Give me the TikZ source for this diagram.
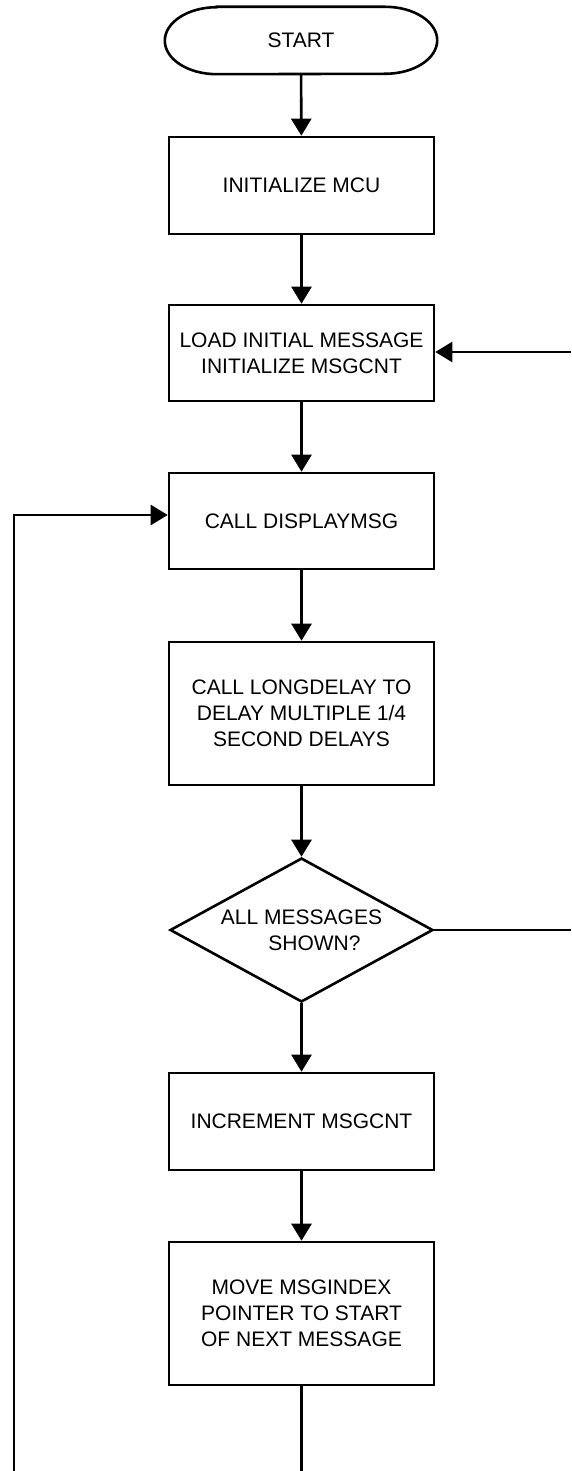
\documentclass[tikz,border=0pt]{standalone}
\usepackage{fontspec}
\setmainfont{Liberation Sans}
\usetikzlibrary{arrows.meta,shapes.geometric}
\tikzset{
  flow/.style={line width=2.6pt, draw=black},
  proc/.style={flow, rectangle, minimum width=265pt, inner sep=0pt, align=center,
               font=\fontsize{21}{26}\selectfont},
  decision/.style={flow, diamond, minimum width=263pt, minimum height=144pt,
               shape aspect=1.83, inner sep=0pt, align=center,
               font=\fontsize{21}{26}\selectfont},
  arrow/.style={line width=2.6pt, -{Triangle[length=17pt,width=20pt]}},
  link/.style={line width=2.6pt}
}
\begin{document}
\begin{tikzpicture}[x=1pt,y=-1pt]
\useasboundingbox (0,0) rectangle (571,1471);

% terminator
\node[minimum width=272pt, minimum height=67pt, inner sep=0pt,
      font=\fontsize{21}{26}\selectfont] (start) at (301,40.5) {START};
\draw[flow] ([xshift=52pt]start.north west) -- ([xshift=-52pt]start.north east)
  arc[start angle=90, end angle=-90, x radius=52pt, y radius=33.5pt]
  -- ([xshift=52pt]start.south west)
  arc[start angle=270, end angle=90, x radius=52pt, y radius=33.5pt] -- cycle;

% process steps
\node[proc, minimum height=97pt]  (init)  at (301.5,185.5)  {INITIALIZE MCU};
\node[proc, minimum height=96pt]  (load)  at (301.5,353)    {LOAD INITIAL MESSAGE\\INITIALIZE MSGCNT};
\node[proc, minimum height=96pt]  (disp)  at (301.5,521)    {CALL DISPLAYMSG};
\node[proc, minimum height=143pt] (delay) at (301.5,713.5)  {CALL LONGDELAY TO\\DELAY MULTIPLE 1/4\\SECOND DELAYS};
\node[decision] (done) at (301.5,930) {ALL MESSAGES\\\hspace*{26pt}SHOWN?};
\node[proc, minimum height=97pt]  (inc)   at (301.5,1121.5) {INCREMENT MSGCNT};
\node[proc, minimum height=143pt] (move)  at (301.5,1313.5) {MOVE MSGINDEX\\POINTER TO START\\OF NEXT MESSAGE};

% loose ends at the picture border
\coordinate (bottom) at (301.5,1471);
\coordinate (leftbottom) at (14,1471);
\coordinate (leftcorner) at (14,515);
\coordinate (rightin) at (571,352);
\coordinate (rightout) at (571,930);

% main flow
\draw[arrow] (start) -- (init);
\draw[arrow] (init) -- (load);
\draw[arrow] (load) -- (disp);
\draw[arrow] (disp) -- (delay);
\draw[arrow] (delay) -- (done);
\draw[arrow] (done) -- (inc);
\draw[arrow] (inc) -- (move);
\draw[link] (move) -- (bottom);

% loop back and branches
\draw[arrow] (leftbottom) -- (leftcorner) -- ([yshift=6pt]disp.west);
\draw[link] (done.east) -- (rightout);
\draw[arrow] (rightin) -- (load.east |- rightin);
\end{tikzpicture}
\end{document}
